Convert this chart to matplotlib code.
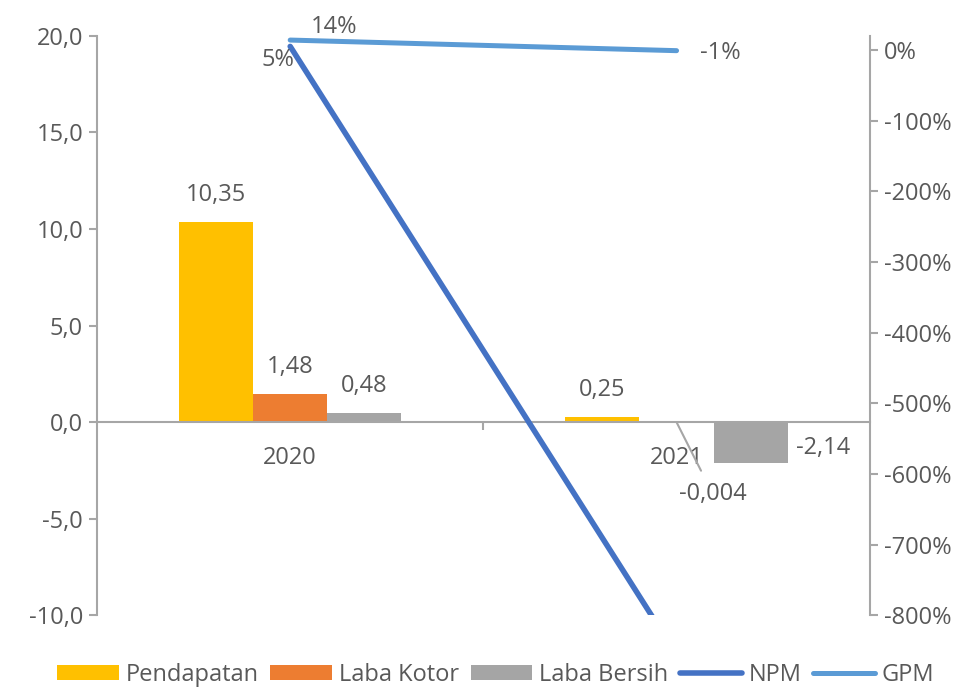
import matplotlib.pyplot as plt
import matplotlib.ticker as mticker
import numpy as np

plt.rcParams['font.family'] = ['Open Sans', 'DejaVu Sans']

# data
years = ['2020', '2021']
pendapatan = [10.35, 0.25]
laba_kotor = [1.48, -0.004]
laba_bersih = [0.48, -2.14]
npm = [0.05, -8.56]
gpm = [0.14, -0.01]

pend_labels = ['10,35', '0,25']
kotor_labels = ['1,48', '-0,004']
bersih_labels = ['0,48', '-2,14']
npm_labels = ['5%', '']
gpm_labels = ['14%', '-1%']

txt = '#595959'
axc = '#A6A6A6'
fs = 17

fig = plt.figure(figsize=(9.72, 6.89), dpi=100)
ax = fig.add_axes([0.0998, 0.107, 0.795, 0.841])
ax2 = ax.twinx()

x = np.arange(len(years))
w = 0.192
b1 = ax.bar(x - w, pendapatan, w, color='#FFC000', label='Pendapatan')
b2 = ax.bar(x, laba_kotor, w, color='#ED7D31', label='Laba Kotor')
b3 = ax.bar(x + w, laba_bersih, w, color='#A5A5A5', label='Laba Bersih')

l1, = ax2.plot(x, npm, color='#4472C4', lw=4, solid_capstyle='round', label='NPM')
l2, = ax2.plot(x, gpm, color='#5B9BD5', lw=3.6, solid_capstyle='round', label='GPM')

ax.set_xlim(-0.5, 1.5)
ax.set_ylim(-10, 20)
ax2.set_ylim(-8, 0.2)
ax.set_yticks(np.arange(-10, 21, 5))
ax.yaxis.set_major_formatter(mticker.FuncFormatter(lambda v, p: f'{v:.1f}'.replace('.', ',')))
ax2.set_yticks(np.arange(-8, 0.01, 1))
ax2.yaxis.set_major_formatter(mticker.FuncFormatter(lambda v, p: f'{v*100:.0f}%'))

for a in (ax, ax2):
    a.spines['top'].set_visible(False)
    for s in ('left', 'right', 'bottom'):
        a.spines[s].set_color(axc)
        a.spines[s].set_linewidth(1.5)
ax2.spines['bottom'].set_visible(False)
ax.spines['right'].set_visible(False)
ax2.spines['left'].set_visible(False)
ax.spines['bottom'].set_position(('data', 0))

ax.tick_params(axis='y', colors=axc, labelcolor=txt, labelsize=fs, length=6, width=1.5, pad=4)
ax2.tick_params(axis='y', colors=axc, labelcolor=txt, labelsize=fs, length=6, width=1.5, pad=4)
ax.set_xticks(x)
ax.set_xticklabels(years)
ax.set_xticks([0.5], minor=True)
ax.tick_params(axis='x', which='major', length=0, labelsize=fs, labelcolor=txt, pad=17)
ax.tick_params(axis='x', which='minor', length=6, width=1.5, color=axc)

# bar labels
ax.annotate(pend_labels[0], (x[0] - w, pendapatan[0]), xytext=(0, 15),
            textcoords='offset points', ha='center', va='baseline', fontsize=fs, color=txt)
ax.annotate(pend_labels[1], (x[1] - w, pendapatan[1]), xytext=(0, 15),
            textcoords='offset points', ha='center', va='baseline', fontsize=fs, color=txt)
ax.annotate(kotor_labels[0], (x[0], laba_kotor[0]), xytext=(0, 15),
            textcoords='offset points', ha='center', va='baseline', fontsize=fs, color=txt)
ax.annotate(bersih_labels[0], (x[0] + w, laba_bersih[0]), xytext=(0, 15),
            textcoords='offset points', ha='center', va='baseline', fontsize=fs, color=txt)
ax.annotate(kotor_labels[1], (x[1], laba_kotor[1]), xytext=(x[1] + 0.094, -3.73),
            textcoords='data', ha='center', va='center', fontsize=fs, color=txt,
            arrowprops=dict(arrowstyle='-', color=axc, lw=1.5, shrinkA=7, shrinkB=0))
ax.annotate(bersih_labels[1], (x[1] + 1.5 * w, laba_bersih[1] / 2), xytext=(6, -4),
            textcoords='offset points', ha='left', va='center', fontsize=fs, color=txt)

# line labels
ax2.annotate(npm_labels[0], (x[0], npm[0]), xytext=(3, -1), textcoords='offset points',
             ha='right', va='top', fontsize=fs, color=txt)
ax2.annotate(gpm_labels[0], (x[0], gpm[0]), xytext=(15, 1), textcoords='offset points',
             ha='left', va='bottom', fontsize=fs, color=txt)
ax2.annotate(gpm_labels[1], (x[1], gpm[1]), xytext=(17, -2), textcoords='offset points',
             ha='left', va='center', fontsize=fs, color=txt)

handles = [b1, b2, b3, l1, l2]
leg = fig.legend(handles, [h.get_label() for h in handles], loc='lower center', ncol=5,
                 bbox_to_anchor=(0.51, -0.028), frameon=False, fontsize=fs, labelcolor=txt,
                 handlelength=2.6, handleheight=0.6, handletextpad=0.3, columnspacing=0.5)

fig.savefig('out.png', dpi=100)
